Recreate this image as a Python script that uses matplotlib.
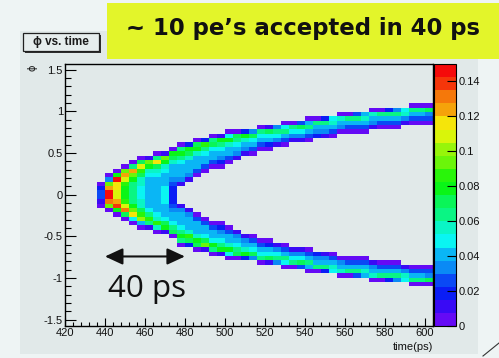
import numpy as np
import matplotlib
matplotlib.use("Agg")
import matplotlib.pyplot as plt
import matplotlib.patches as mpatches
from matplotlib.lines import Line2D
from matplotlib.colors import ListedColormap, BoundaryNorm
from matplotlib.ticker import MultipleLocator
import colorsys

# ---------------------------------------------------------------- data
# Binning of the 2D histogram: 4 ps time bins, 60 phi bins over [-pi/2, pi/2]
time_edges = np.arange(420, 605, 4)
phi_edges = np.linspace(-np.pi / 2, np.pi / 2, 61)
z_max = 0.15
n_levels = 20
z_step = z_max / n_levels

# Cell contents as contour-level codes (0-9, a-j = level 0..19),
# entries: (time-bin index, first phi row counted from the top, codes downwards)
core_columns = [
    (4, 27, "023310"),
    (5, 25, "04cgjjhc0"),
    (6, 24, "0ajffeegia0"),
    (7, 23, "0cgebaaabeh90"),
    (8, 22, "08gca88888acf60"),
    (9, 21, "09eb977666779bd50"),
    (10, 21, "1ca76555555568b81"),
    (11, 20, "08f9765555555567b70"),
    (12, 20, "1ca76555666655569a1"),
    (13, 19, "0a9755543222234556890"),
]
upper_arm = [
    (14, 18, "08a8655541"), (15, 18, "2a9755541"), (16, 17, "09a755530"),
    (17, 17, "2b865530"), (18, 16, "08965530"), (19, 16, "1a865420"),
    (20, 15, "06a75530"), (21, 15, "0986541"), (22, 15, "2a7541"),
    (23, 15, "496530"), (24, 14, "086530"), (25, 14, "196520"),
    (26, 14, "48641"), (27, 13, "068530"), (28, 13, "08641"),
    (29, 13, "39641"), (30, 12, "058530"), (31, 12, "08542"),
    (32, 12, "28541"), (33, 12, "67530"), (34, 11, "07540"),
    (35, 11, "08530"), (36, 11, "38530"), (37, 11, "57530"),
    (38, 10, "07541"), (39, 10, "08530"), (40, 10, "28530"),
    (41, 10, "48530"), (42, 10, "6741"), (43, 9, "08530"),
    (44, 9, "08530"), (45, 9, "09430"),
]
lower_arm = [
    (14, 32, "1455568a80"), (15, 33, "145557b92"), (16, 34, "035557a90"),
    (17, 35, "035569c1"), (18, 36, "03556a80"), (19, 36, "024568a1"),
    (20, 37, "03557a60"), (21, 38, "1456890"), (22, 39, "1457a2"),
    (23, 39, "035694"), (24, 40, "035680"), (25, 40, "025691"),
    (26, 41, "14684"), (27, 41, "035860"), (28, 42, "14680"),
    (29, 42, "14693"), (30, 42, "035850"), (31, 43, "24580"),
    (32, 43, "14582"), (33, 43, "03576"), (34, 44, "04570"),
    (35, 44, "03580"), (36, 44, "03583"), (37, 44, "03575"),
    (38, 45, "14570"), (39, 45, "03580"), (40, 45, "03582"),
    (41, 45, "03584"), (42, 46, "1476"), (43, 46, "03580"),
    (44, 46, "03580"), (45, 46, "03490"),
]

x_ticks = np.arange(420, 601, 20)
y_ticks = [-1.5, -1, -0.5, 0, 0.5, 1, 1.5]
y_tick_labels = ["-1.5", "-1", "-0.5", "0", "0.5", "1", "1.5"]
z_ticks = np.arange(0, 0.141, 0.02)
z_tick_labels = ["0", "0.02", "0.04", "0.06", "0.08", "0.1", "0.12", "0.14"]
arrow_span = (440, 480)
arrow_phi = -0.74

# ---------------------------------------------------------------- histogram
n_t = len(time_edges) - 1
n_phi = len(phi_edges) - 1
level = np.full((n_phi, n_t), -1)
for j, r0, codes in core_columns + upper_arm + lower_arm:
    for k, c in enumerate(codes):
        level[n_phi - 1 - (r0 + k), j] = int(c, 20)
content = np.ma.masked_less((level + 0.5) * z_step, 0)

# ROOT "pretty" palette, 50 hues from violet to red, sampled for 20 contours
palette = []
for k in range(n_levels):
    idx = int((k + 0.99) * 50 / n_levels)
    hue = 280 - (idx + 1) * 5.6
    palette.append(colorsys.hls_to_rgb(hue / 360, 0.5, 0.92))
cmap = ListedColormap(palette)
norm = BoundaryNorm(np.linspace(0, z_max, n_levels + 1), n_levels)

# ---------------------------------------------------------------- figure
W, H = 499, 358
fig = plt.figure(figsize=(W / 100, H / 100), dpi=100)
fig.patch.set_facecolor("#eef4f4")


def fx(px):
    return px / W


def fy(py):
    return 1 - py / H


pad_color = "#e1e9e9"
fig.patches.append(mpatches.Rectangle(
    (fx(20), fy(354)), fx(478) - fx(20), fy(31) - fy(354),
    transform=fig.transFigure, facecolor=pad_color, edgecolor="none", zorder=-5))

ax = fig.add_axes([fx(65), fy(325.7), fx(432.7) - fx(65), fy(63.9) - fy(325.7)])
ax.set_zorder(1)
ax.set_facecolor(pad_color)
mesh = ax.pcolormesh(time_edges, phi_edges, content, cmap=cmap, norm=norm,
                     shading="flat", edgecolors="none")
ax.set_xlim(time_edges[0], time_edges[-1])
ax.set_ylim(phi_edges[0], phi_edges[-1])

tick_font = dict(family=["Liberation Sans", "DejaVu Sans"], size=8)
ax.set_xticks(x_ticks)
ax.set_xticklabels([str(v) for v in x_ticks], **tick_font)
ax.set_yticks(y_ticks)
ax.set_yticklabels(y_tick_labels, **tick_font)
ax.xaxis.set_minor_locator(MultipleLocator(4))
ax.yaxis.set_minor_locator(MultipleLocator(0.1))
ax.tick_params(axis="x", which="major", direction="in", length=5.6, width=0.8,
               pad=2.0, color="black", labelcolor="#111111", top=False)
ax.tick_params(axis="x", which="minor", direction="in", length=2.8, width=0.8,
               top=False)
ax.tick_params(axis="y", which="major", direction="in", length=7.9, width=0.8,
               pad=1.5, color="black", labelcolor="#111111", right=False)
ax.tick_params(axis="y", which="minor", direction="in", length=4.0, width=0.8,
               right=False)
for s in ax.spines.values():
    s.set_linewidth(1.0)
    s.set_color("black")

# colour scale
cax = fig.add_axes([fx(434), fy(326.2), fx(455.5) - fx(434), fy(64) - fy(326.2)])
cax.set_zorder(1)
cb = fig.colorbar(mesh, cax=cax, ticks=z_ticks)
cb.ax.set_yticklabels(z_tick_labels, **tick_font)
cb.ax.tick_params(direction="in", length=6.5, width=0.8, pad=2, color="black",
                  labelcolor="#111111")
cb.outline.set_linewidth(0.8)
cb.ax.minorticks_off()

# axis titles
fig.text(fx(432.7), fy(347), "time(ps)", ha="right", va="center",
         family=["Liberation Sans", "DejaVu Sans"], size=8, color="#111111")
fig.text(fx(33), fy(68), "ϕ", ha="center", va="center", rotation=90,
         family=["DejaVu Sans"], size=7, color="#111111")

# histogram title box
fig.patches.append(mpatches.Rectangle(
    (fx(24.5), fy(52.5)), fx(101) - fx(24.5), fy(34.5) - fy(52.5),
    transform=fig.transFigure, facecolor="#303030", edgecolor="none", zorder=2))
fig.patches.append(mpatches.Rectangle(
    (fx(22.7), fy(50.7)), fx(99) - fx(22.7), fy(32.7) - fy(50.7),
    transform=fig.transFigure, facecolor="#e6eded", edgecolor="#202020",
    linewidth=0.9, zorder=3))
fig.text(fx(61), fy(42), "ϕ vs. time", ha="center", va="center",
         family=["Liberation Sans", "DejaVu Sans"], weight="bold", size=8.5,
         color="#1a1a1a", zorder=4)

# headline banner
fig.patches.append(mpatches.Rectangle(
    (fx(107), fy(59)), fx(499) - fx(107), fy(3) - fy(59),
    transform=fig.transFigure, facecolor="#e3f52a", edgecolor="none", zorder=2))
fig.text(fx(302.5), fy(35.5), "~ 10 pe’s accepted in 40 ps", ha="center",
         va="baseline", family=["DejaVu Sans"], weight="bold",
         size=16.4, color="#111111", zorder=4)

# page corner stroke
fig.lines.append(Line2D([fx(483), fx(499)], [fy(356), fy(343)],
                        transform=fig.transFigure, color="#333333", lw=0.8))

# 40 ps double arrow
ax.annotate("", xy=(arrow_span[0], arrow_phi), xytext=(arrow_span[1], arrow_phi),
            arrowprops=dict(arrowstyle="<|-|>,head_length=0.54,head_width=0.25",
                            color="#111111", lw=1.5, mutation_scale=20,
                            shrinkA=0, shrinkB=0))
ax.text(arrow_span[0] + 1.5, -1.23, "40 ps", ha="left", va="baseline",
        family=["Open Sans", "DejaVu Sans"], size=22.5, color="#111111")

fig.savefig("out.png", dpi=100, facecolor=fig.get_facecolor())
